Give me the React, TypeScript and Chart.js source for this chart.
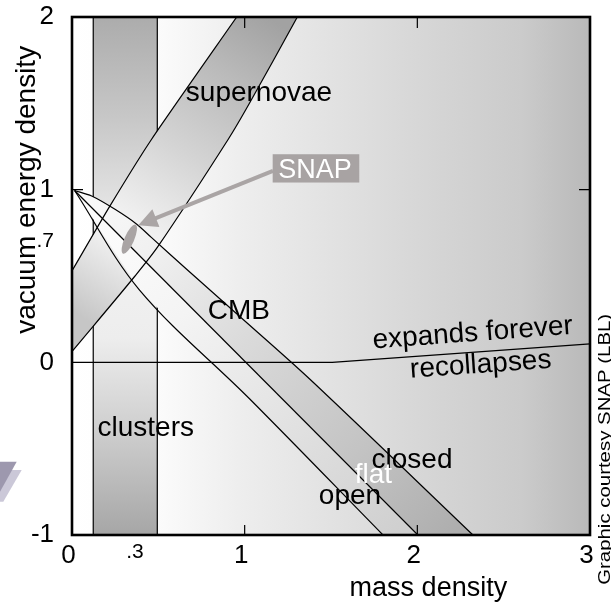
import { useEffect, useRef } from "react";
import { Chart, registerables } from "chart.js";

Chart.register(...registerables);

const FONT = '"Liberation Sans", Arial, Helvetica, sans-serif';

// ---------- axis ticks ----------
const xTickValues = [0, 0.385, 1, 2, 3];
const xTickLabels = ["0", ".3", "1", "2", "3"];
const yTickValues = [-1, 0, 0.7, 1, 2];
const yTickLabels = ["-1", "0", ".7", "1", "2"];
const xInnerTicks = [1, 2];
const yInnerTicks = [1];

// ---------- clusters band ----------
const clustersX = [0.123, 0.494];
const clustersY = [-1, 2];

// ---------- supernovae band ----------
const snUpperX = [0, 0.22, 0.461, 0.954];
const snUpperY = [0.53, 0.906, 1.292, 2.0];
const snLowerX = [0.002, 0.365, 0.5, 0.905, 1.031, 1.305];
const snLowerY = [0.065, 0.5, 0.674, 1.292, 1.506, 2.0];

// ---------- CMB (closed / flat / open) ----------
const closedX = [0.015, 0.114, 0.249, 0.375, 0.461, 0.664, 0.944, 1.378, 2.322];
const closedY = [0.995, 0.963, 0.886, 0.8, 0.722, 0.539, 0.29, -0.098, -1.0];
const flatX = [0.015, 2.003];
const flatY = [0.995, -1.0];
const openX = [0.015, 0.39, 1.031, 1.801];
const openY = [0.995, 0.42, -0.214, -1.0];

// ---------- expands forever / recollapses ----------
const fateX = [0, 1.507, 3];
const fateY = [0, 0, 0.107];

// ---------- SNAP ----------
const snapX = [0.332];
const snapY = [0.713];

// ---------- text annotations (layout) ----------
const textLabels = [
  { text: "supernovae", x: 1.083, y: 1.512, rot: 0, color: "#000" },
  { text: "CMB", x: 0.966, y: 0.249, rot: 0, color: "#000" },
  { text: "clusters", x: 0.427, y: -0.427, rot: 0, color: "#000" },
  { text: "expands forever", x: 2.324, y: 0.123, rot: -4.2, color: "#000" },
  { text: "recollapses", x: 2.37, y: -0.06, rot: -4, color: "#000" },
  { text: "closed", x: 1.969, y: -0.614, rot: 0, color: "#000" },
  { text: "flat", x: 1.746, y: -0.697, rot: 0, color: "#fff" },
  { text: "open", x: 1.61, y: -0.823, rot: 0, color: "#000" },
];

const pts = (xs: number[], ys: number[]) => xs.map((x, i) => ({ x, y: ys[i] }));

function lin(chart: any, x0: number, y0: number, x1: number, y1: number, stops: [number, string][]) {
  const { ctx, scales } = chart;
  if (!chart.chartArea || !scales.x || !scales.y) return "#ddd";
  const g = ctx.createLinearGradient(
    scales.x.getPixelForValue(x0),
    scales.y.getPixelForValue(y0),
    scales.x.getPixelForValue(x1),
    scales.y.getPixelForValue(y1)
  );
  stops.forEach(([o, c]) => g.addColorStop(o, c));
  return g;
}

const lineDs = (data: any[], tension = 0) => ({
  data,
  showLine: true,
  fill: false,
  borderColor: "#000",
  borderWidth: 1.2,
  pointRadius: 0,
  pointHoverRadius: 0,
  tension,
  order: 0,
});

const fillDs = (data: any[], bg: any, order: number) => ({
  data,
  showLine: true,
  fill: "shape",
  backgroundColor: bg,
  borderColor: "rgba(0,0,0,0)",
  borderWidth: 1,
  pointRadius: 0,
  pointHoverRadius: 0,
  tension: 0,
  order,
});

function drawText(ctx: CanvasRenderingContext2D, text: string, x: number, y: number, size: number, color: string, rotDeg = 0, scaleX = 1) {
  ctx.save();
  ctx.translate(x, y);
  ctx.rotate((rotDeg * Math.PI) / 180);
  ctx.scale(scaleX, 1);
  ctx.font = `${size}px ${FONT}`;
  ctx.fillStyle = color;
  ctx.textAlign = "center";
  ctx.textBaseline = "alphabetic";
  ctx.fillText(text, 0, 0);
  ctx.restore();
}

const backgroundPlugin = {
  id: "bgGradient",
  beforeDatasetsDraw(chart: any) {
    const { ctx, chartArea: a } = chart;
    const g = ctx.createLinearGradient(a.left, 0, a.right, 0);
    g.addColorStop(0, "#ffffff");
    g.addColorStop(0.5 / 3, "#fbfbfb");
    g.addColorStop(1 / 3, "#ededed");
    g.addColorStop(2 / 3, "#d7d7d7");
    g.addColorStop(2.6 / 3, "#cbcbcb");
    g.addColorStop(1, "#b9b9b9");
    ctx.save();
    ctx.fillStyle = g;
    ctx.fillRect(a.left, a.top, a.right - a.left, a.bottom - a.top);
    ctx.restore();
  },
};

const annotationPlugin = {
  id: "annotations",
  afterDatasetsDraw(chart: any) {
    const { ctx, chartArea: a, scales } = chart;
    const X = (v: number) => scales.x.getPixelForValue(v);
    const Y = (v: number) => scales.y.getPixelForValue(v);

    // SNAP ellipse
    ctx.save();
    ctx.fillStyle = "#a9a4a4";
    ctx.beginPath();
    ctx.ellipse(X(snapX[0]), Y(snapY[0]), 4.8, 15.8, 0.41, 0, Math.PI * 2);
    ctx.fill();
    ctx.restore();

    // SNAP arrow and box
    const boxCx = X(1.413), boxCy = Y(1.123);
    const sx = boxCx - 43, sy = boxCy + 2.5;
    const tx = X(0.384), ty = Y(0.794);
    const dx = tx - sx, dy = ty - sy;
    const len = Math.hypot(dx, dy);
    const ux = dx / len, uy = dy / len;
    const headL = 19, headW = 9.5;
    const bx = tx - ux * headL, by = ty - uy * headL;
    ctx.save();
    ctx.strokeStyle = "#aaa5a5";
    ctx.fillStyle = "#aaa5a5";
    ctx.lineWidth = 4;
    ctx.beginPath();
    ctx.moveTo(sx, sy);
    ctx.lineTo(bx + ux * 2, by + uy * 2);
    ctx.stroke();
    ctx.beginPath();
    ctx.moveTo(tx, ty);
    ctx.lineTo(bx - uy * headW, by + ux * headW);
    ctx.lineTo(bx + uy * headW, by - ux * headW);
    ctx.closePath();
    ctx.fill();
    ctx.fillStyle = "#a8a3a3";
    ctx.fillRect(boxCx - 43.3, boxCy - 14.2, 86.6, 28.3);
    ctx.restore();
    drawText(ctx, "SNAP", boxCx - 1, boxCy + 10, 27, "#fff");

    // labels
    textLabels.forEach((l) => drawText(ctx, l.text, X(l.x), Y(l.y), 28, l.color, l.rot));

    // frame
    ctx.save();
    ctx.strokeStyle = "#000";
    ctx.lineWidth = 2.6;
    ctx.strokeRect(a.left, a.top, a.right - a.left, a.bottom - a.top);
    ctx.lineWidth = 1.2;
    ctx.beginPath();
    xInnerTicks.forEach((v) => {
      const p = X(v);
      ctx.moveTo(p, a.top);
      ctx.lineTo(p, a.top + 11);
      ctx.moveTo(p, a.bottom);
      ctx.lineTo(p, a.bottom - 10);
    });
    yInnerTicks.forEach((v) => {
      const p = Y(v);
      ctx.moveTo(a.left, p);
      ctx.lineTo(a.left + 11, p);
      ctx.moveTo(a.right, p);
      ctx.lineTo(a.right - 11, p);
    });
    ctx.stroke();
    ctx.restore();

    // axis titles
    drawText(ctx, "mass density", X(2.064), Y(-1.356), 27, "#000");
    drawText(ctx, "vacuum energy density", X(-0.214), Y(0.999), 28, "#000", -90);
    // credit
    drawText(ctx, "Graphic courtesy SNAP (LBL)", X(3.115), Y(-0.504), 17, "#000", -90, 1.2);

    // decorative chevron (logo fragment)
    ctx.save();
    ctx.fillStyle = "#cbc8d8";
    ctx.beginPath();
    ctx.moveTo(0, 470);
    ctx.lineTo(21.7, 470);
    ctx.lineTo(3.3, 501.7);
    ctx.lineTo(0, 501.7);
    ctx.closePath();
    ctx.fill();
    ctx.fillStyle = "#9d98ae";
    ctx.beginPath();
    ctx.moveTo(0, 461.7);
    ctx.lineTo(16.7, 461.7);
    ctx.lineTo(0, 491.7);
    ctx.closePath();
    ctx.fill();
    ctx.restore();
  },
};

export default function App() {
  const ref = useRef<HTMLCanvasElement>(null);

  useEffect(() => {
    const clusterPoly = [
      { x: clustersX[0], y: clustersY[1] },
      { x: clustersX[1], y: clustersY[1] },
      { x: clustersX[1], y: clustersY[0] },
      { x: clustersX[0], y: clustersY[0] },
    ];
    const snPoly = [...pts(snUpperX, snUpperY), ...pts(snLowerX, snLowerY).reverse()];
    const lensPoly = [...pts(closedX, closedY), ...pts(openX, openY).reverse()];
    const bandPoly = [...pts(closedX, closedY), ...pts(flatX, flatY).reverse()];

    const datasets: any[] = [
      lineDs(pts(snUpperX, snUpperY), 0.2),
      lineDs(pts(snLowerX, snLowerY), 0.3),
      lineDs(pts(closedX, closedY), 0.3),
      lineDs(pts(flatX, flatY)),
      lineDs(pts(openX, openY), 0.35),
      lineDs(pts(fateX, fateY)),
      fillDs(bandPoly, (c: any) => lin(c.chart, 0, 1, 2.2, -1, [[0, "#fbfbfb"], [0.2, "#f0f0f0"], [0.45, "#dadada"], [0.75, "#c4c4c4"], [1, "#aeaeae"]]), 1),
      fillDs(lensPoly, (c: any) => lin(c.chart, 0, 1, 1.9, -1, [[0, "#ffffff"], [0.35, "#f4f4f4"], [0.7, "#e0e0e0"], [1, "#cfcfcf"]]), 2),
      fillDs(snPoly, (c: any) => lin(c.chart, 0, 0.3, 1.129, 2.005, [[0, "#c6c6c6"], [0.26, "#f6f6f6"], [0.55, "#d4d4d4"], [0.8, "#bababa"], [1, "#a2a2a2"]]), 3),
      { ...lineDs(pts([clustersX[0], clustersX[0]], clustersY)), order: 4 },
      { ...lineDs(pts([clustersX[1], clustersX[1]], clustersY)), order: 4 },
      fillDs(clusterPoly, (c: any) => lin(c.chart, 0, 2, 0, -1, [[0, "#acacac"], [0.2, "#c8c8c8"], [0.45, "#f2f2f2"], [0.62, "#ededed"], [0.8, "#cecece"], [1, "#a6a6a6"]]), 5),
    ];

    const chart = new Chart(ref.current as HTMLCanvasElement, {
      type: "scatter",
      data: { datasets },
      options: {
        animation: false,
        responsive: true,
        maintainAspectRatio: false,
        events: [],
        layout: { padding: { left: 0, right: 21, top: 17, bottom: 0 } },
        plugins: { legend: { display: false }, tooltip: { enabled: false } },
        scales: {
          x: {
            type: "linear",
            min: 0,
            max: 3,
            grid: { display: false, drawTicks: false },
            border: { display: false },
            afterBuildTicks: (s: any) => {
              s.ticks = xTickValues.map((v) => ({ value: v }));
            },
            afterFit: (s: any) => {
              s.height = 67;
              s.paddingLeft = 0;
              s.paddingRight = 0;
            },
            ticks: {
              autoSkip: false,
              maxRotation: 0,
              minRotation: 0,
              padding: 5,
              labelOffset: -3.5,
              color: "#000",
              font: (c: any) => ({ family: FONT, size: xTickLabels[c.index] === ".3" ? 21 : 26 }),
              callback: (_v: any, i: number) => xTickLabels[i],
            },
          },
          y: {
            type: "linear",
            min: -1,
            max: 2,
            grid: { display: false, drawTicks: false },
            border: { display: false },
            afterBuildTicks: (s: any) => {
              s.ticks = yTickValues.map((v) => ({ value: v }));
            },
            afterFit: (s: any) => {
              s.width = 72;
              s.paddingTop = 0;
              s.paddingBottom = 0;
            },
            ticks: {
              autoSkip: false,
              padding: 18,
              color: "#000",
              font: (c: any) => ({ family: FONT, size: yTickLabels[c.index] === ".7" ? 21 : 26 }),
              callback: (_v: any, i: number) => yTickLabels[i],
            },
          },
        },
      } as any,
      plugins: [backgroundPlugin, annotationPlugin],
    });
    return () => chart.destroy();
  }, []);

  return (
    <div style={{ position: "fixed", left: 0, top: 0, width: 611, height: 602, background: "#fff" }}>
      <canvas ref={ref} />
    </div>
  );
}
